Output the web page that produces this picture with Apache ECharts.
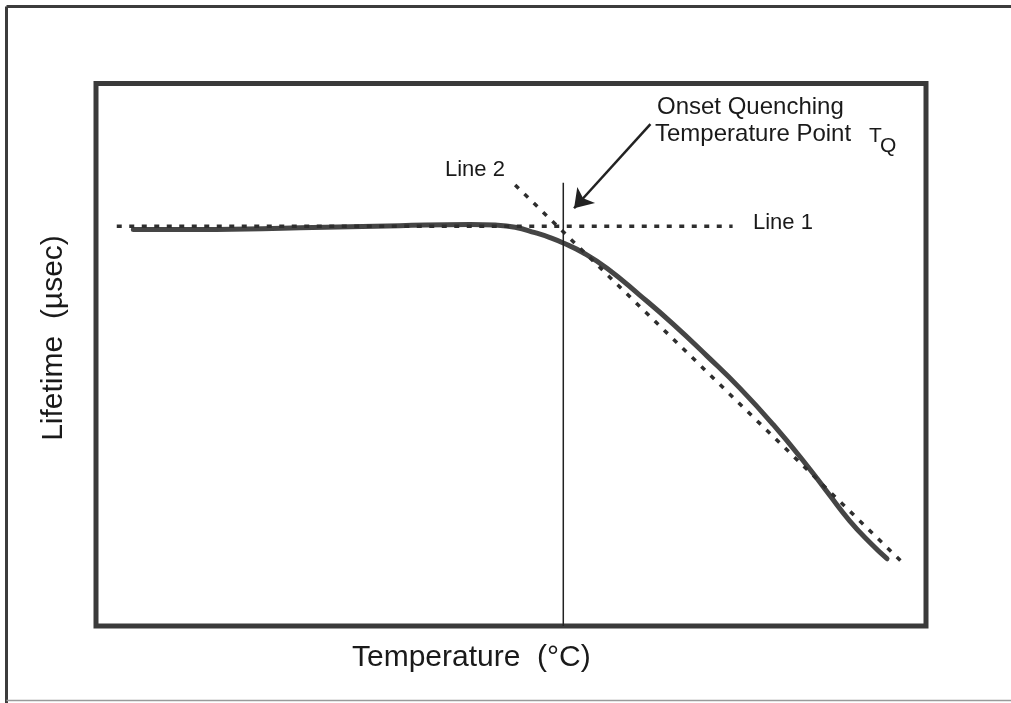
<!DOCTYPE html>
<html>
<head>
<meta charset="utf-8">
<script src="https://cdn.jsdelivr.net/npm/echarts@6/dist/echarts.min.js"></script>
<style>
html,body{margin:0;padding:0;background:#fff;}
#c{width:1011px;height:703px;}
</style>
</head>
<body>
<div id="c"></div>
<script>
// Measured curve (arbitrary units, axes have no ticks: 0..100 both ways)
var curveX = [4.5, 12.5, 24.6, 36.6, 45.1, 48.1, 50.5, 52.9, 54.7, 56.3, 58.7, 61.6, 65.5, 69.5, 73.6, 77.6, 81.6, 85.7, 88.4, 90.8, 93.3, 95.3];
var curveY = [73.1, 73.1, 73.4, 73.8, 74.0, 73.9, 73.5, 72.5, 71.6, 70.6, 68.8, 65.9, 61.0, 55.7, 49.8, 43.8, 37.1, 29.5, 24.1, 19.4, 15.3, 12.4];
// Line 1 (horizontal tangent) and Line 2 (slope tangent)
var line1X = [2.5, 76.7];
var line1Y = [73.7, 73.7];
var line2X = [50.5, 97.1];
var line2Y = [81.3, 11.8];
// Onset quenching temperature marker
var tqX = [56.3, 56.3];
var tqY = [81.7, 0];
// Arrow pointing to T_Q
var arrowX = [66.8, 57.6];
var arrowY = [92.5, 77.0];

var xAxisName = 'Temperature  (°C)';
var yAxisName = 'Lifetime  (µsec)';

function pairs(xs, ys){ return xs.map(function(x,i){ return [x, ys[i]]; }); }

var FONT = '"Liberation Sans", Arial, Helvetica, sans-serif';
var TXT = '#1a1a1a';

var chart = echarts.init(document.getElementById('c'), null, {renderer:'canvas'});
chart.setOption({
  animation: false,
  backgroundColor: '#fff',
  grid: {
    left: 96, top: 83.5, right: 85, bottom: 77,
    show: true, borderWidth: 5, borderColor: '#3a3a3a', backgroundColor: 'transparent'
  },
  xAxis: {
    type: 'value', min: 0, max: 100,
    axisLine: {show:false}, axisTick: {show:false}, axisLabel: {show:false}, splitLine: {show:false}
  },
  yAxis: {
    type: 'value', min: 0, max: 100,
    axisLine: {show:false}, axisTick: {show:false}, axisLabel: {show:false}, splitLine: {show:false}
  },
  series: [
    {
      type: 'line', name: 'Lifetime', data: pairs(curveX, curveY),
      smooth: 0.5, symbol: 'none',
      lineStyle: {color: '#454545', width: 5, cap: 'round', join: 'round'}, z: 3
    },
    {
      type: 'line', name: 'Line 1', data: pairs(line1X, line1Y),
      symbol: 'none',
      lineStyle: {color: '#2e2e2e', width: 3.5, type: [5, 7.5]}, z: 4
    },
    {
      type: 'line', name: 'Line 2', data: pairs(line2X, line2Y),
      symbol: 'none',
      lineStyle: {color: '#2e2e2e', width: 3.5, type: [5, 8]}, z: 4
    },
    {
      type: 'line', name: 'TQ', data: pairs(tqX, tqY),
      symbol: 'none',
      lineStyle: {color: '#222', width: 1.5}, z: 5
    },
    {
      type: 'lines', coordinateSystem: 'cartesian2d',
      data: [{coords: pairs(arrowX, arrowY)}],
      symbol: ['none', 'arrow'], symbolSize: [10, 18],
      lineStyle: {color: '#222', width: 2.5, opacity: 1}, z: 5
    }
  ],
  graphic: [
    // outer frame
    {type:'line', shape:{x1:6.5, y1:6.5, x2:1011, y2:6.5}, style:{stroke:'#3c3c3c', lineWidth:3}},
    {type:'line', shape:{x1:6.5, y1:6.5, x2:6.5, y2:703}, style:{stroke:'#3c3c3c', lineWidth:3}},
    {type:'line', shape:{x1:6.5, y1:700.5, x2:1011, y2:700.5}, style:{stroke:'#9a9a9a', lineWidth:1.5}},
    // axis titles
    {type:'text', x:352, y:657.5, style:{text:xAxisName, font:'30px '+FONT, fill:TXT, textAlign:'left', textVerticalAlign:'middle'}},
    {type:'text', x:53.5, y:338, rotation:Math.PI/2, style:{text:yAxisName, font:'30px '+FONT, fill:TXT, textAlign:'center', textVerticalAlign:'middle'}},
    // annotations
    {type:'text', x:657, y:107, style:{text:'Onset Quenching', font:'24px '+FONT, fill:TXT, textAlign:'left', textVerticalAlign:'middle'}},
    {type:'text', x:655, y:134.5, style:{text:'Temperature Point', font:'24px '+FONT, fill:TXT, textAlign:'left', textVerticalAlign:'middle'}},
    {type:'text', x:869, y:136.5, style:{text:'T', font:'21px '+FONT, fill:TXT, textAlign:'left', textVerticalAlign:'middle'}},
    {type:'text', x:880, y:146, style:{text:'Q', font:'21px '+FONT, fill:TXT, textAlign:'left', textVerticalAlign:'middle'}},
    {type:'text', x:445, y:169.5, style:{text:'Line 2', font:'22px '+FONT, fill:TXT, textAlign:'left', textVerticalAlign:'middle'}},
    {type:'text', x:753, y:222.5, style:{text:'Line 1', font:'22px '+FONT, fill:TXT, textAlign:'left', textVerticalAlign:'middle'}}
  ]
});
</script>
</body>
</html>
